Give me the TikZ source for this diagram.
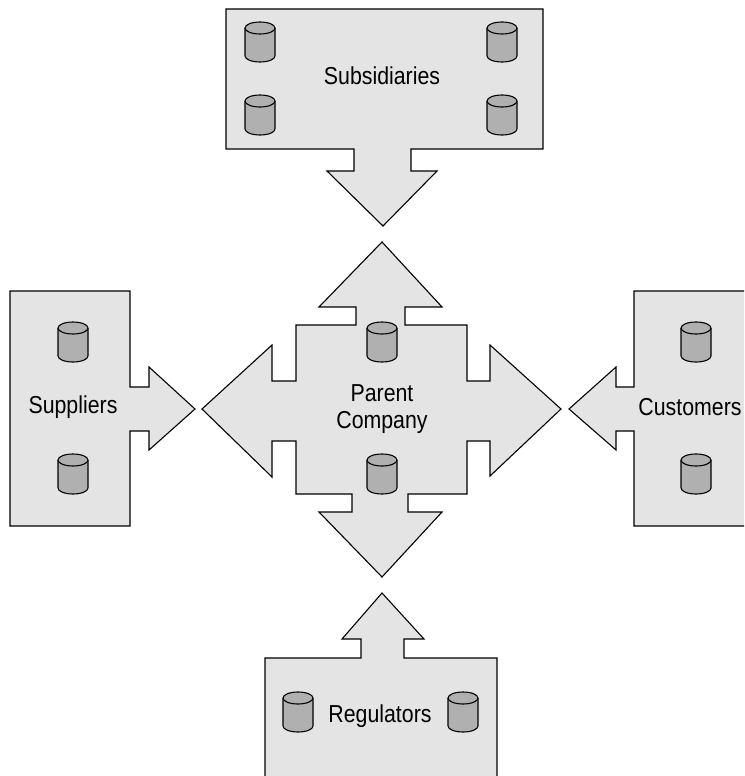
\documentclass[tikz,border=0pt]{standalone}
\usepackage{fontspec}
\setmainfont{Liberation Sans}[FakeStretch=0.87]
\definecolor{panelgray}{HTML}{E4E4E4}
\definecolor{drumgray}{HTML}{B0B0B0}
\tikzset{
	panel/.style={draw=black, fill=panelgray, line width=1.1pt, line join=miter},
	pics/drum/.style={code={
		\draw[fill=drumgray, line width=1.1pt] (-15,-14) -- (-15,14) arc[start angle=180, end angle=0, x radius=15, y radius=6] -- (15,-14);
		\draw[fill=drumgray, line width=1.1pt] (0,-14) ellipse[x radius=15, y radius=6];
	}},
	lbl/.style={font=\fontsize{24.5}{27}\selectfont, align=center, inner sep=0pt}
}
\begin{document}
\begin{tikzpicture}[x=1pt, y=-1pt]
	\useasboundingbox (0,0) rectangle (744,776);
	\clip (0,0) rectangle (744,776);

	% Subsidiaries
	\draw[panel] (226,9) -- (543,9) -- (543,149) -- (411,149) -- (411,171) -- (437,171) -- (383,226) -- (327,171) -- (354,171) -- (354,149) -- (226,149) -- cycle;

	% Parent company
	\draw[panel] (382,242) -- (442,307) -- (405,307) -- (405,325) -- (467,325) -- (467,381) -- (490,381) -- (490,345) -- (561,409) -- (490,476) -- (490,441) -- (467,441) -- (467,494) -- (408,494) -- (408,512) -- (442,512) -- (382,577) -- (319,512) -- (352,512) -- (352,494) -- (296,494) -- (296,441) -- (272,441) -- (272,477) -- (202,409) -- (272,345) -- (272,381) -- (296,381) -- (296,325) -- (356,325) -- (356,307) -- (319,307) -- cycle;

	% Suppliers
	\draw[panel] (10,291) -- (130,291) -- (130,387) -- (149,387) -- (149,367) -- (195,409) -- (149,450) -- (149,431) -- (130,431) -- (130,526) -- (10,526) -- cycle;

	% Customers
	\draw[panel] (760,291) -- (634,291) -- (634,387) -- (616,387) -- (616,367) -- (569,409) -- (616,450) -- (616,431) -- (634,431) -- (634,526) -- (760,526);

	% Regulators
	\draw[panel] (265,790) -- (265,658) -- (361,658) -- (361,639) -- (342,639) -- (382,593) -- (424,639) -- (404,639) -- (404,658) -- (497,658) -- (497,790);

	% Drums
	\foreach \name/\x/\y in {subA/260/42, subB/260/115, subC/502/42, subD/502/115, parA/382/342, parB/382/474, supA/73/342, supB/73/474, cusA/696/342, cusB/696/474, regA/298/712, regB/463/712} {
		\pic (\name) at (\x,\y) {drum};
	}

	% Labels
	\node[lbl] (subsidiaries) at (382,76) {Subsidiaries};
	\node[lbl] (parent) at (382,409) {Parent\\Company};
	\node[lbl] (suppliers) at (73,407) {Suppliers};
	\node[lbl] (customers) at (690,407) {Customers};
	\node[lbl] (regulators) at (380,716) {Regulators};
\end{tikzpicture}
\end{document}
